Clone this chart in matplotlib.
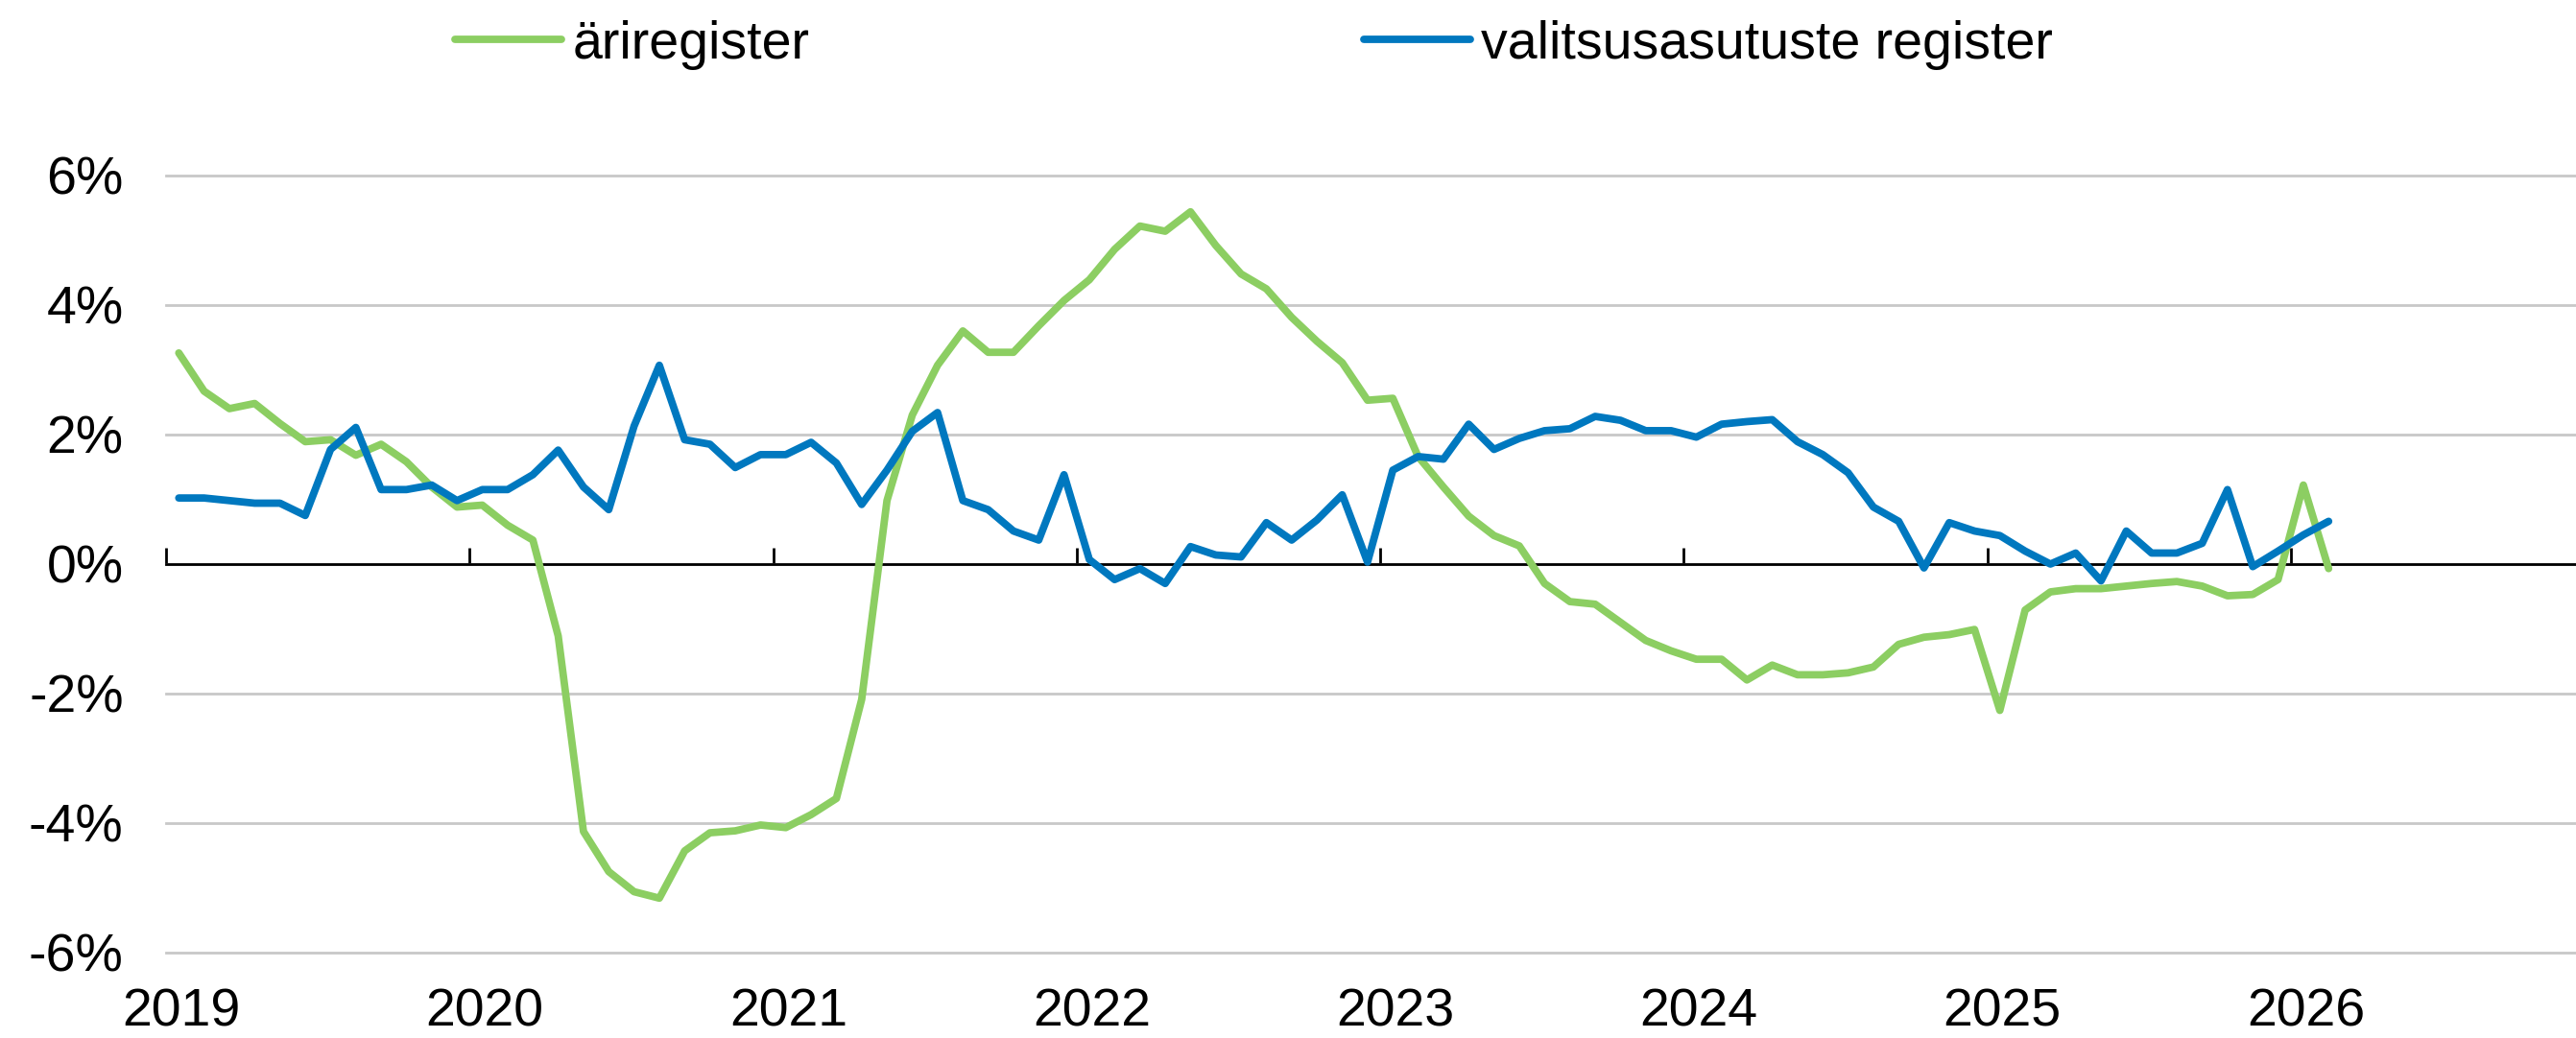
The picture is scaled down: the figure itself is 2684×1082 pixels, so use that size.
import numpy as np
import matplotlib
matplotlib.use('Agg')
import matplotlib.pyplot as plt

plt.rcParams['font.family'] = ['Liberation Sans', 'DejaVu Sans']

# monthly values, Jan 2019 .. Feb 2026 (%)
ariregister = [
    3.26, 2.67, 2.40, 2.48, 2.17, 1.89, 1.92, 1.68, 1.85, 1.58, 1.19, 0.88,
    0.91, 0.60, 0.37, -1.11, -4.13, -4.75, -5.06, -5.16, -4.43, -4.15, -4.12, -4.03,
    -4.07, -3.87, -3.62, -2.09, 0.98, 2.30, 3.07, 3.60, 3.27, 3.27, 3.68, 4.07,
    4.39, 4.86, 5.22, 5.14, 5.44, 4.92, 4.48, 4.25, 3.81, 3.44, 3.11, 2.53,
    2.56, 1.66, 1.19, 0.74, 0.44, 0.28, -0.30, -0.58, -0.62, -0.90, -1.18, -1.34,
    -1.47, -1.47, -1.79, -1.56, -1.71, -1.71, -1.68, -1.59, -1.24, -1.13, -1.09, -1.01,
    -2.26, -0.71, -0.43, -0.38, -0.38, -0.34, -0.30, -0.27, -0.34, -0.49, -0.47, -0.24,
    1.22, -0.07,
]
valitsus = [
    1.02, 1.02, 0.98, 0.94, 0.94, 0.75, 1.77, 2.11, 1.15, 1.15, 1.22, 0.98,
    1.15, 1.15, 1.38, 1.76, 1.19, 0.84, 2.13, 3.07, 1.92, 1.85, 1.49, 1.69,
    1.69, 1.88, 1.56, 0.92, 1.45, 2.05, 2.34, 0.98, 0.84, 0.51, 0.37, 1.38,
    0.07, -0.24, -0.07, -0.30, 0.27, 0.14, 0.11, 0.64, 0.37, 0.68, 1.07, 0.03,
    1.45, 1.66, 1.62, 2.16, 1.77, 1.94, 2.06, 2.09, 2.28, 2.22, 2.06, 2.06,
    1.96, 2.16, 2.20, 2.23, 1.89, 1.69, 1.41, 0.88, 0.66, -0.06, 0.64, 0.51,
    0.44, 0.20, 0.00, 0.17, -0.26, 0.51, 0.17, 0.17, 0.32, 1.15, -0.04, 0.20,
    0.45, 0.66,
]
years = list(range(2019, 2027))
yticks = [-6, -4, -2, 0, 2, 4, 6]

green = '#8CCE62'
blue = '#0078BF'

x = 2019 + (np.arange(len(ariregister)) + 0.5) / 12

fig = plt.figure(figsize=(26.84, 10.82), dpi=100)
ax = fig.add_axes([0.0645, 0.0823, 0.9355, 0.7486])

ax.plot(x, ariregister, color=green, lw=5.6, label='äriregister',
        solid_joinstyle='round', solid_capstyle='round')
ax.plot(x, valitsus, color=blue, lw=5.6, label='valitsusasutuste register',
        solid_joinstyle='round', solid_capstyle='round')

ax.set_xlim(2019, 2026.94)
ax.set_ylim(-6, 6)
ax.set_yticks(yticks)
ax.set_yticklabels([f'{v}%' for v in yticks])
ax.yaxis.grid(True, color='#C8C8C8', lw=2.0)
ax.set_axisbelow(True)
for g in ax.get_ygridlines():
    g.set_clip_on(False)

for s in ['top', 'right', 'left']:
    ax.spines[s].set_visible(False)
ax.spines['bottom'].set_position(('data', 0))
ax.spines['bottom'].set_color('black')
ax.spines['bottom'].set_linewidth(2.0)
ax.spines['bottom'].set_zorder(1)

ax.set_xticks(years)
ax.tick_params(axis='x', direction='in', length=12.5, width=2.0, labelbottom=False)
ax.tick_params(axis='y', length=0, pad=32, labelsize=40)

# year labels sit slightly right of the tick marks, at the bottom
sec = ax.secondary_xaxis('bottom')
sec.set_xticks([y + 0.05 for y in years])
sec.set_xticklabels([str(y) for y in years])
sec.tick_params(length=0, pad=26, labelsize=40)
for s in sec.spines.values():
    s.set_visible(False)

fig.legend(loc='center left', bbox_to_anchor=(0.1766, 0.957), ncol=2, frameon=False,
           fontsize=40, handlelength=2.0, handletextpad=0.2, columnspacing=10.4,
           borderpad=0, borderaxespad=0)

fig.savefig('out.png', dpi=100, facecolor='white')
